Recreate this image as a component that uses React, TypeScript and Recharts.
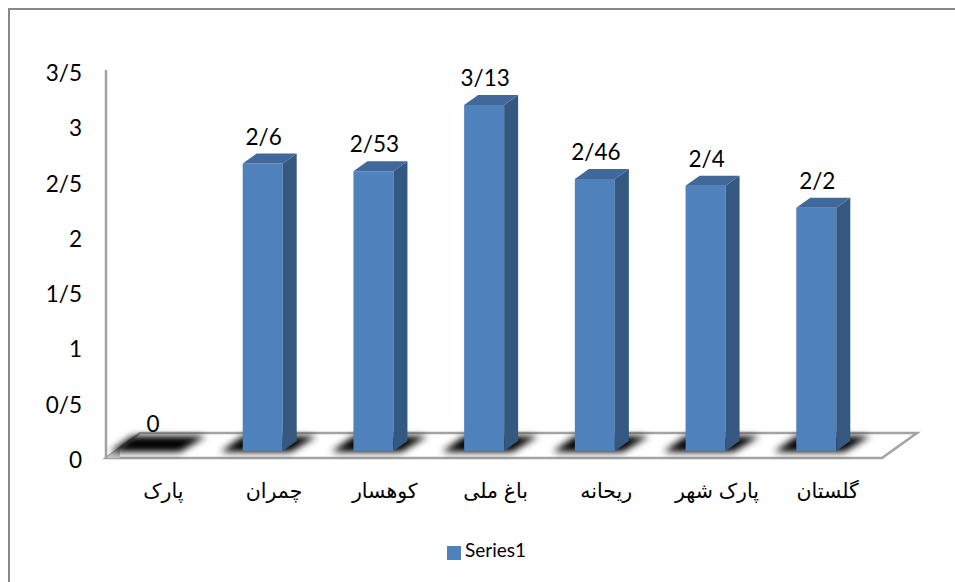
import { Bar, BarChart, LabelList, Legend, XAxis, YAxis, usePlotArea } from "recharts";

const categories = ["پارک", "چمران", "کوهسار", "باغ ملی", "ریحانه", "پارک شهر", "گلستان"];
const values = [0, 2.6, 2.53, 3.13, 2.46, 2.4, 2.2];
const valueLabels = ["0", "2/6", "2/53", "3/13", "2/46", "2/4", "2/2"];
const yTicks = [0, 0.5, 1, 1.5, 2, 2.5, 3, 3.5];
const yTickLabels = ["0", "0/5", "1", "1/5", "2", "2/5", "3", "3/5"];

const data = categories.map((name, i) => ({ name, Series1: values[i], label: valueLabels[i] }));

const FRONT = "#4f81bd";
const SIDE = "#34587f";
const TOP = "#41689b";
const WALL = "#a3a3a3";
const FONT = "Lato, sans-serif";

// the floor sits in perspective under the bars, the wall line runs up from its corner
const Floor = () => {
  const plot = usePlotArea();
  if (!plot) return null;
  const left = plot.x + 9;
  const bottom = plot.y + plot.height;
  const points = [
    [left, bottom + 7],
    [left + 34, bottom - 18],
    [left + 811, bottom - 18],
    [left + 776, bottom + 7],
  ]
    .map((p) => p.join(","))
    .join(" ");
  return (
    <g>
      <defs>
        <filter id="floorShadow" x="-30%" y="-60%" width="160%" height="220%">
          <feGaussianBlur stdDeviation="3.5" />
        </filter>
      </defs>
      <polygon points={points} fill="#fff" stroke={WALL} strokeWidth={2.5} />
      <polygon points={`${left},${bottom + 7} ${left + 14},${bottom - 3} ${left + 14},${bottom + 7}`} fill="#c8c8c8" />
      <line x1={left} y1={plot.y + 6} x2={left} y2={bottom + 7} stroke={WALL} strokeWidth={2.5} />
    </g>
  );
};

const Bar3D = (props: any) => {
  const { x, y, width, height } = props;
  const dx = 14;
  const dy = 10;
  const bottom = y + height;
  const right = x + width;
  return (
    <g>
      <polygon
        points={`${x - 22},${bottom + 1} ${x},${bottom - 15} ${right + 34},${bottom - 15} ${right + 8},${bottom + 1}`}
        fill="#000"
        filter="url(#floorShadow)"
      />
      {height > 0 && (
        <>
          <rect x={x} y={y} width={width} height={height} fill={FRONT} />
          <polygon points={`${right},${y} ${right + dx},${y - dy} ${right + dx},${bottom - dy} ${right},${bottom}`} fill={SIDE} />
          <polygon points={`${x},${y} ${x + dx},${y - dy} ${right + dx},${y - dy} ${right},${y}`} fill={TOP} />
        </>
      )}
    </g>
  );
};

const CategoryTick = ({ x, y, payload }: any) => (
  <text x={x + 11} y={y + 39} textAnchor="middle" direction="rtl" fontFamily="'Liberation Sans', 'DejaVu Sans'" fontSize={20.5} fill="#000">
    {payload.value}
  </text>
);

const ValueTick = ({ x, y, payload, index }: any) => (
  <text x={x - 7} y={y + 17} textAnchor="end" fontFamily={FONT} fontSize={22.5} fill="#000">
    {yTickLabels[index] ?? payload.value}
  </text>
);

const ValueLabel = ({ x, y, width, index }: any) => (
  <text x={x + width / 2 + 1} y={y - 19} textAnchor="middle" fontFamily={FONT} fontSize={22.5} fill="#000">
    {valueLabels[index]}
  </text>
);

const LegendText = (value: string) => (
  <span style={{ color: "#000", fontFamily: FONT, fontSize: 19 }}>{value}</span>
);

export default function App() {
  return (
    <div style={{ position: "absolute", left: 8, top: 8, width: 947, height: 574, borderLeft: "2px solid #888", borderTop: "2px solid #888", boxSizing: "border-box", background: "#fff" }}>
      <BarChart
        width={945}
        height={572}
        data={data}
        barSize={40}
        margin={{ top: 54, right: 83, bottom: 36, left: 46 }}
      >
        <Floor />
        <XAxis dataKey="name" axisLine={false} tickLine={false} tick={<CategoryTick />} height={72} interval={0} />
        <YAxis
          domain={[0, 3.5]}
          ticks={yTicks}
          width={41}
          axisLine={false}
          tickLine={false}
          tick={<ValueTick />}
          interval={0}
        />
        <Legend
          verticalAlign="bottom"
          align="center"
          iconType="square"
          iconSize={14}
          formatter={LegendText}
          wrapperStyle={{ bottom: 21, left: 437, width: "auto" }}
        />
        <Bar dataKey="Series1" fill={FRONT} shape={<Bar3D />} isAnimationActive={false}>
          <LabelList dataKey="label" content={<ValueLabel />} />
        </Bar>
      </BarChart>
    </div>
  );
}
